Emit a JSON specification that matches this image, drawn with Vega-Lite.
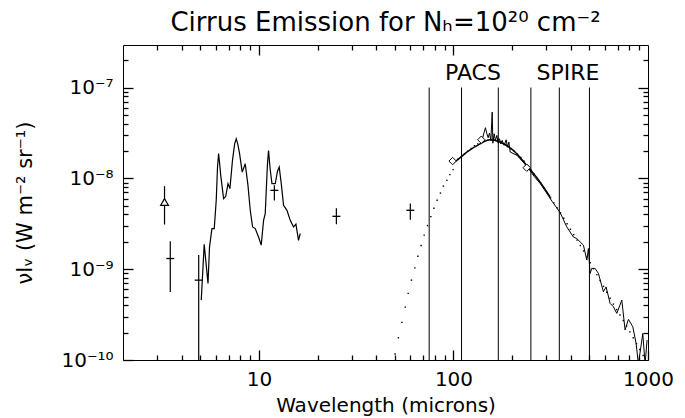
{
  "$schema": "https://vega.github.io/schema/vega-lite/v6.json",
  "width": 525,
  "height": 315,
  "autosize": {"type": "none"},
  "padding": {"left": 123, "top": 45, "right": 37, "bottom": 58},
  "background": "white",
  "title": {"text": "Cirrus Emission for Nₕ=10²⁰ cm⁻²", "font": "DejaVu Sans", "fontSize": 26, "fontWeight": "normal", "color": "black", "anchor": "middle", "offset": 8},
  "config": {
    "view": {"stroke": "black", "strokeWidth": 1},
    "axis": {"domain": false, "grid": false, "labelColor": "black", "labelFont": "DejaVu Sans", "labelFontSize": 20, "titleFont": "DejaVu Sans", "titleFontSize": 20, "titleFontWeight": "normal", "titleColor": "black"}
  },
  "resolve": {"axis": {"x": "independent", "y": "independent"}},
  "datasets": {
    "bands": [
      {"lam": 75, "lo": 1e-10, "hi": 1e-7},
      {"lam": 110, "lo": 1e-10, "hi": 1e-7},
      {"lam": 170, "lo": 1e-10, "hi": 1e-7},
      {"lam": 250, "lo": 1e-10, "hi": 1e-7},
      {"lam": 350, "lo": 1e-10, "hi": 1e-7},
      {"lam": 500, "lo": 1e-10, "hi": 1e-7}
    ],
    "labels": [
      {"lam": 126, "I": 1.43e-7, "text": "PACS"},
      {"lam": 388, "I": 1.43e-7, "text": "SPIRE"}
    ],
    "midir": [
      {"lam": 5.05, "I": 4.56e-10}, {"lam": 5.23, "I": 1.88e-9}, {"lam": 5.47, "I": 6.97e-10}, {"lam": 5.57, "I": 1.76e-9},
      {"lam": 5.73, "I": 2.80e-9}, {"lam": 5.89, "I": 2.80e-9}, {"lam": 6.03, "I": 5.73e-9}, {"lam": 6.12, "I": 1.3e-8},
      {"lam": 6.20, "I": 1.88e-8}, {"lam": 6.28, "I": 1.45e-8}, {"lam": 6.36, "I": 1.08e-8}, {"lam": 6.58, "I": 5.98e-9},
      {"lam": 6.75, "I": 6.34e-9}, {"lam": 6.93, "I": 8.75e-9}, {"lam": 7.09, "I": 7.71e-9}, {"lam": 7.31, "I": 1.58e-8},
      {"lam": 7.50, "I": 2.4e-8}, {"lam": 7.64, "I": 2.73e-8}, {"lam": 7.78, "I": 2.4e-8}, {"lam": 7.95, "I": 1.87e-8},
      {"lam": 8.20, "I": 1.17e-8}, {"lam": 8.50, "I": 1.45e-8}, {"lam": 8.78, "I": 8.38e-9}, {"lam": 9.02, "I": 4.45e-9},
      {"lam": 9.27, "I": 2.92e-9}, {"lam": 9.57, "I": 2.80e-9}, {"lam": 9.95, "I": 2.26e-9}, {"lam": 10.27, "I": 1.84e-9},
      {"lam": 10.56, "I": 3.45e-9}, {"lam": 10.77, "I": 4.09e-9}, {"lam": 11.05, "I": 1.4e-8}, {"lam": 11.20, "I": 2.03e-8},
      {"lam": 11.40, "I": 1.3e-8}, {"lam": 11.66, "I": 8.75e-9}, {"lam": 12.13, "I": 8.75e-9}, {"lam": 12.45, "I": 1.2e-8},
      {"lam": 12.71, "I": 1.33e-8}, {"lam": 13.02, "I": 8.75e-9}, {"lam": 13.38, "I": 5.05e-9}, {"lam": 13.93, "I": 4.45e-9},
      {"lam": 14.48, "I": 3.45e-9}, {"lam": 15.06, "I": 2.92e-9}, {"lam": 15.49, "I": 3.13e-9}, {"lam": 15.97, "I": 2.08e-9},
      {"lam": 16.30, "I": 2.47e-9}
    ],
    "firas": [
      {"lam": 138.3, "I": 2.51e-8}, {"lam": 141.6, "I": 2.85e-8}, {"lam": 143.8, "I": 3.23e-8}, {"lam": 146.0, "I": 3.61e-8},
      {"lam": 148.5, "I": 3.10e-8}, {"lam": 150.8, "I": 2.80e-8}, {"lam": 153.1, "I": 3.15e-8}, {"lam": 155.7, "I": 2.62e-8},
      {"lam": 158.1, "I": 5.36e-8}, {"lam": 159.4, "I": 2.44e-8}, {"lam": 161.8, "I": 3.10e-8}, {"lam": 164.3, "I": 2.62e-8},
      {"lam": 167.1, "I": 2.97e-8}, {"lam": 169.7, "I": 2.44e-8}, {"lam": 172.3, "I": 2.73e-8}, {"lam": 175.2, "I": 2.40e-8},
      {"lam": 177.9, "I": 2.62e-8}, {"lam": 182.2, "I": 2.31e-8}, {"lam": 186.6, "I": 2.66e-8}, {"lam": 189.5, "I": 2.21e-8},
      {"lam": 192.6, "I": 2.51e-8}, {"lam": 195.6, "I": 1.95e-8}, {"lam": 212.4, "I": 1.79e-8}, {"lam": 238.2, "I": 1.36e-8},
      {"lam": 259.8, "I": 1.05e-8}, {"lam": 278.9, "I": 8.81e-9}, {"lam": 299.4, "I": 7.02e-9}, {"lam": 321.4, "I": 5.58e-9},
      {"lam": 353.4, "I": 4.2e-9}, {"lam": 382.4, "I": 2.92e-9}, {"lam": 413.6, "I": 2.26e-9}, {"lam": 430.5, "I": 2.17e-9},
      {"lam": 447.7, "I": 2.00e-9}, {"lam": 465.6, "I": 1.84e-9}, {"lam": 484.7, "I": 1.26e-9}, {"lam": 494.0, "I": 1.69e-9},
      {"lam": 503.9, "I": 8.97e-10}, {"lam": 514.0, "I": 1.02e-9}, {"lam": 534.6, "I": 1.02e-9}, {"lam": 555.9, "I": 8.97e-10},
      {"lam": 589.8, "I": 5.64e-10}, {"lam": 609.0, "I": 6.38e-10}, {"lam": 638.5, "I": 4.20e-10}, {"lam": 664.0, "I": 3.86e-10},
      {"lam": 691.3, "I": 3.26e-10}, {"lam": 733.4, "I": 4.56e-10}, {"lam": 762.5, "I": 2.14e-10}, {"lam": 793.0, "I": 2.80e-10},
      {"lam": 835.3, "I": 2.32e-10}, {"lam": 868.5, "I": 1.53e-10}, {"lam": 892.6, "I": 9.0e-11}, {"lam": 940.2, "I": 1.96e-10},
      {"lam": 966.1, "I": 9.0e-11}, {"lam": 989.0, "I": 1.66e-10}
    ],
    "fit": [
      {"lam": 101, "I": 1.52e-8}, {"lam": 104, "I": 1.58e-8}, {"lam": 117, "I": 1.94e-8}, {"lam": 137, "I": 2.40e-8},
      {"lam": 154, "I": 2.66e-8}, {"lam": 173, "I": 2.51e-8}, {"lam": 203, "I": 2.03e-8}, {"lam": 238, "I": 1.39e-8},
      {"lam": 279, "I": 9.10e-9}, {"lam": 314, "I": 6.24e-9}
    ],
    "model": [
      {"lam": 50.1, "I": 1.164e-10}, {"lam": 52.1, "I": 1.758e-10}, {"lam": 54.3, "I": 2.594e-10}, {"lam": 56.5, "I": 3.82e-10},
      {"lam": 58.5, "I": 5.41e-10}, {"lam": 60.8, "I": 7.57e-10}, {"lam": 63.3, "I": 1.033e-9}, {"lam": 65.6, "I": 1.39e-9},
      {"lam": 68.2, "I": 1.82e-9}, {"lam": 70.7, "I": 2.37e-9}, {"lam": 73.5, "I": 3.02e-9}, {"lam": 76.5, "I": 3.79e-9},
      {"lam": 79.3, "I": 4.68e-9}, {"lam": 82.4, "I": 5.73e-9}, {"lam": 85.7, "I": 6.89e-9}, {"lam": 88.8, "I": 8.22e-9},
      {"lam": 92.5, "I": 9.51e-9}, {"lam": 95.8, "I": 1.099e-8}, {"lam": 99.6, "I": 1.247e-8},
      {"lam": 105.4, "I": 1.62e-8}, {"lam": 109.6, "I": 1.73e-8}, {"lam": 114.0, "I": 1.86e-8}, {"lam": 118.6, "I": 1.995e-8},
      {"lam": 123.3, "I": 2.138e-8}, {"lam": 128.2, "I": 2.291e-8}, {"lam": 133.4, "I": 2.399e-8}, {"lam": 138.7, "I": 2.512e-8},
      {"lam": 144.2, "I": 2.570e-8}, {"lam": 150.0, "I": 2.630e-8}, {"lam": 156.0, "I": 2.661e-8}, {"lam": 162.2, "I": 2.630e-8},
      {"lam": 168.7, "I": 2.570e-8}, {"lam": 175.4, "I": 2.483e-8}, {"lam": 182.4, "I": 2.371e-8}, {"lam": 189.7, "I": 2.239e-8},
      {"lam": 197.2, "I": 2.113e-8}, {"lam": 205.1, "I": 1.995e-8}, {"lam": 213.3, "I": 1.841e-8}, {"lam": 221.8, "I": 1.698e-8},
      {"lam": 230.7, "I": 1.549e-8}, {"lam": 239.9, "I": 1.380e-8}, {"lam": 249.5, "I": 1.245e-8}, {"lam": 259.4, "I": 1.109e-8},
      {"lam": 269.8, "I": 9.89e-9}, {"lam": 280.5, "I": 8.91e-9}, {"lam": 291.7, "I": 7.85e-9}, {"lam": 303.4, "I": 6.92e-9},
      {"lam": 315.5, "I": 6.10e-9}, {"lam": 328.1, "I": 5.37e-9}, {"lam": 341.2, "I": 4.73e-9}, {"lam": 354.8, "I": 4.17e-9},
      {"lam": 369.0, "I": 3.63e-9}, {"lam": 383.7, "I": 3.16e-9}, {"lam": 399.0, "I": 2.75e-9}, {"lam": 414.9, "I": 2.40e-9},
      {"lam": 431.5, "I": 2.09e-9}, {"lam": 448.7, "I": 1.82e-9}, {"lam": 466.6, "I": 1.585e-9}, {"lam": 485.3, "I": 1.365e-9},
      {"lam": 504.7, "I": 1.175e-9}, {"lam": 524.8, "I": 1.012e-9}, {"lam": 545.8, "I": 8.71e-10}, {"lam": 567.5, "I": 7.50e-10},
      {"lam": 590.2, "I": 6.46e-10}, {"lam": 613.8, "I": 5.56e-10}, {"lam": 638.3, "I": 4.79e-10}, {"lam": 663.7, "I": 4.12e-10},
      {"lam": 690.2, "I": 3.59e-10}, {"lam": 717.8, "I": 3.13e-10}, {"lam": 746.5, "I": 2.72e-10}, {"lam": 776.2, "I": 2.37e-10},
      {"lam": 807.2, "I": 2.04e-10}, {"lam": 839.5, "I": 1.758e-10}, {"lam": 873.0, "I": 1.514e-10}, {"lam": 907.8, "I": 1.303e-10},
      {"lam": 944.1, "I": 1.122e-10}
    ],
    "phot": [
      {"lam": 3.27, "I": 5.5e-9, "lo": 3.1e-9, "hi": 8.2e-9, "sym": "tri"},
      {"lam": 3.5, "I": 1.31e-9, "lo": 5.6e-10, "hi": 2.03e-9, "sym": "plus"},
      {"lam": 4.9, "I": 7.57e-10, "lo": 1e-11, "hi": 1.43e-9, "sym": "plus"},
      {"lam": 12, "I": 7.38e-9, "lo": 5.7e-9, "hi": 8.4e-9, "sym": "plus"},
      {"lam": 25, "I": 3.82e-9, "lo": 3.13e-9, "hi": 4.68e-9, "sym": "plus"},
      {"lam": 60, "I": 4.45e-9, "lo": 3.5e-9, "hi": 5.3e-9, "sym": "plus"}
    ],
    "dirbe": [
      {"lam": 99, "I": 1.55e-8},
      {"lam": 139, "I": 2.66e-8},
      {"lam": 238, "I": 1.31e-8}
    ]
  },
  "layer": [
    {
      "data": {"name": "bands"},
      "mark": {"type": "rule", "color": "black", "strokeWidth": 1, "clip": true},
      "encoding": {
        "x": {"field": "lam", "type": "quantitative", "scale": {"type": "log", "domain": [2, 1000], "nice": false},
          "axis": {"orient": "bottom", "values": [10, 100, 1000], "ticks": true, "tickColor": "black", "tickWidth": 1.3, "tickSize": 10, "offset": -10, "labelPadding": 9, "labelFlush": false, "labelOverlap": false, "labelExpr": "'' + datum.value", "title": "Wavelength (microns)", "titlePadding": 6}},
        "y": {"field": "lo", "type": "quantitative", "scale": {"type": "log", "domain": [1e-10, 2.94e-7], "nice": false},
          "axis": {"orient": "left", "values": [1e-10, 1e-9, 1e-8, 1e-7], "ticks": true, "tickColor": "black", "tickWidth": 1.3, "tickSize": 10, "offset": -10, "labelPadding": 10, "labelFlush": false, "labelOverlap": false, "labelExpr": "'10' + (datum.value < 5e-10 ? '⁻¹⁰' : datum.value < 5e-9 ? '⁻⁹' : datum.value < 5e-8 ? '⁻⁸' : '⁻⁷')", "title": "νIᵥ (W m⁻² sr⁻¹)", "titlePadding": 25, "titleFontSize": 21}},
        "y2": {"field": "hi"}
      }
    },
    {
      "data": {"name": "labels"},
      "mark": {"type": "text", "font": "DejaVu Sans", "fontSize": 22, "color": "black", "align": "center", "baseline": "middle"},
      "encoding": {
        "x": {"field": "lam", "type": "quantitative", "scale": {"type": "log", "domain": [2, 1000], "nice": false},
          "axis": {"orient": "top", "values": [10, 100], "ticks": true, "tickColor": "black", "tickWidth": 1.3, "tickSize": 10, "offset": -10, "labels": true, "labelOpacity": 0, "labelFontSize": 1, "labelPadding": 0, "title": null, "zindex": 1}},
        "y": {"field": "I", "type": "quantitative", "scale": {"type": "log", "domain": [1e-10, 2.94e-7], "nice": false},
          "axis": {"orient": "right", "values": [1e-9, 1e-8, 1e-7], "ticks": true, "tickColor": "black", "tickWidth": 1.3, "tickSize": 10, "offset": -10, "labels": true, "labelOpacity": 0, "labelFontSize": 1, "labelPadding": 0, "title": null, "zindex": 1}},
        "text": {"field": "text"}
      }
    },
    {
      "data": {"name": "model"},
      "mark": {"type": "point", "shape": "square", "filled": true, "size": 2, "color": "black", "opacity": 1, "clip": true},
      "encoding": {
        "x": {"field": "lam", "type": "quantitative", "scale": {"type": "log", "domain": [2, 1000], "nice": false},
          "axis": {"orient": "bottom", "values": [3, 4, 5, 6, 7, 8, 9, 20, 30, 40, 50, 60, 70, 80, 90, 200, 300, 400, 500, 600, 700, 800, 900], "ticks": true, "tickColor": "black", "tickWidth": 1.3, "tickSize": 5, "offset": -5, "labels": true, "labelOpacity": 0, "labelFontSize": 1, "labelPadding": 0, "title": null, "zindex": 1}},
        "y": {"field": "I", "type": "quantitative", "scale": {"type": "log", "domain": [1e-10, 2.94e-7], "nice": false},
          "axis": {"orient": "left", "values": [2e-10, 3e-10, 4e-10, 5e-10, 6e-10, 7e-10, 8e-10, 9e-10, 2e-9, 3e-9, 4e-9, 5e-9, 6e-9, 7e-9, 8e-9, 9e-9, 2e-8, 3e-8, 4e-8, 5e-8, 6e-8, 7e-8, 8e-8, 9e-8, 2e-7], "ticks": true, "tickColor": "black", "tickWidth": 1.3, "tickSize": 5, "offset": -5, "labels": true, "labelOpacity": 0, "labelFontSize": 1, "labelPadding": 0, "title": null, "zindex": 1}}
      }
    },
    {
      "data": {"name": "fit"},
      "mark": {"type": "line", "color": "black", "strokeWidth": 1.5, "interpolate": "monotone", "clip": true},
      "encoding": {
        "x": {"field": "lam", "type": "quantitative", "scale": {"type": "log", "domain": [2, 1000], "nice": false},
          "axis": {"orient": "top", "values": [3, 4, 5, 6, 7, 8, 9, 20, 30, 40, 50, 60, 70, 80, 90, 200, 300, 400, 500, 600, 700, 800, 900], "ticks": true, "tickColor": "black", "tickWidth": 1.3, "tickSize": 5, "offset": -5, "labels": true, "labelOpacity": 0, "labelFontSize": 1, "labelPadding": 0, "title": null, "zindex": 1}},
        "y": {"field": "I", "type": "quantitative", "scale": {"type": "log", "domain": [1e-10, 2.94e-7], "nice": false},
          "axis": {"orient": "right", "values": [2e-10, 3e-10, 4e-10, 5e-10, 6e-10, 7e-10, 8e-10, 9e-10, 2e-9, 3e-9, 4e-9, 5e-9, 6e-9, 7e-9, 8e-9, 9e-9, 2e-8, 3e-8, 4e-8, 5e-8, 6e-8, 7e-8, 8e-8, 9e-8, 2e-7], "ticks": true, "tickColor": "black", "tickWidth": 1.3, "tickSize": 5, "offset": -5, "labels": true, "labelOpacity": 0, "labelFontSize": 1, "labelPadding": 0, "title": null, "zindex": 1}}
      }
    },
    {
      "data": {"name": "firas"},
      "mark": {"type": "line", "color": "black", "strokeWidth": 1, "clip": true},
      "encoding": {
        "x": {"field": "lam", "type": "quantitative", "scale": {"type": "log", "domain": [2, 1000], "nice": false}, "axis": null},
        "y": {"field": "I", "type": "quantitative", "scale": {"type": "log", "domain": [1e-10, 2.94e-7], "nice": false}, "axis": null}
      }
    },
    {
      "data": {"name": "midir"},
      "mark": {"type": "line", "color": "black", "strokeWidth": 1.2, "clip": true},
      "encoding": {
        "x": {"field": "lam", "type": "quantitative", "scale": {"type": "log", "domain": [2, 1000], "nice": false}, "axis": null},
        "y": {"field": "I", "type": "quantitative", "scale": {"type": "log", "domain": [1e-10, 2.94e-7], "nice": false}, "axis": null}
      }
    },
    {
      "data": {"name": "phot"},
      "mark": {"type": "rule", "color": "black", "strokeWidth": 1.2, "clip": true},
      "encoding": {
        "x": {"field": "lam", "type": "quantitative", "scale": {"type": "log", "domain": [2, 1000], "nice": false}, "axis": null},
        "y": {"field": "lo", "type": "quantitative", "scale": {"type": "log", "domain": [1e-10, 2.94e-7], "nice": false}, "axis": null},
        "y2": {"field": "hi"}
      }
    },
    {
      "data": {"name": "phot"},
      "transform": [{"filter": "datum.sym == 'plus'"}],
      "mark": {"type": "point", "shape": "M-1,0L1,0", "filled": false, "size": 64, "stroke": "black", "strokeWidth": 1.3, "opacity": 1, "clip": true},
      "encoding": {
        "x": {"field": "lam", "type": "quantitative", "scale": {"type": "log", "domain": [2, 1000], "nice": false}, "axis": null},
        "y": {"field": "I", "type": "quantitative", "scale": {"type": "log", "domain": [1e-10, 2.94e-7], "nice": false}, "axis": null}
      }
    },
    {
      "data": {"name": "phot"},
      "transform": [{"filter": "datum.sym == 'tri'"}],
      "mark": {"type": "point", "shape": "triangle-up", "filled": true, "fill": "white", "size": 60, "stroke": "black", "strokeWidth": 1.2, "opacity": 1, "clip": true},
      "encoding": {
        "x": {"field": "lam", "type": "quantitative", "scale": {"type": "log", "domain": [2, 1000], "nice": false}, "axis": null},
        "y": {"field": "I", "type": "quantitative", "scale": {"type": "log", "domain": [1e-10, 2.94e-7], "nice": false}, "axis": null}
      }
    },
    {
      "data": {"name": "dirbe"},
      "mark": {"type": "point", "shape": "diamond", "filled": true, "fill": "white", "size": 55, "stroke": "black", "strokeWidth": 1, "opacity": 1, "clip": true},
      "encoding": {
        "x": {"field": "lam", "type": "quantitative", "scale": {"type": "log", "domain": [2, 1000], "nice": false}, "axis": null},
        "y": {"field": "I", "type": "quantitative", "scale": {"type": "log", "domain": [1e-10, 2.94e-7], "nice": false}, "axis": null}
      }
    }
  ]
}
